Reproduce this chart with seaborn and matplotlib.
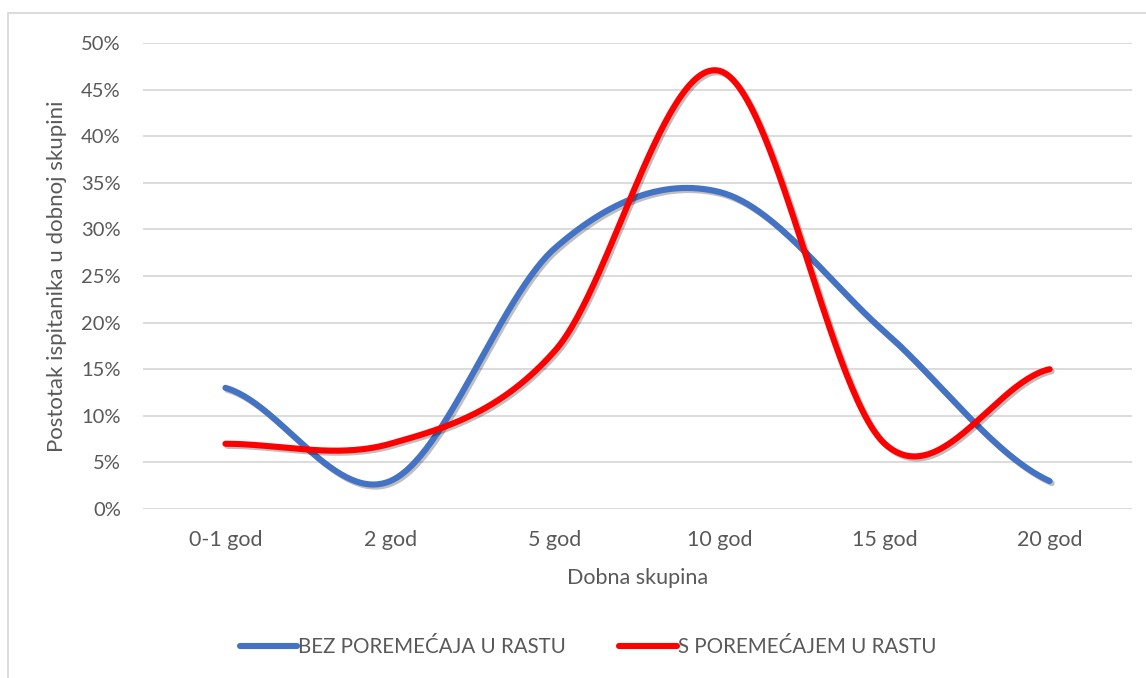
import numpy as np
import pandas as pd
import matplotlib
matplotlib.use("Agg")
import matplotlib.pyplot as plt
import matplotlib.patheffects as pe
from matplotlib.lines import Line2D
from matplotlib.ticker import PercentFormatter
import seaborn as sns

# ---- data ----
categories = ["0-1 god", "2 god", "5 god", "10 god", "15 god", "20 god"]
bez_poremecaja = [0.13, 0.03, 0.28, 0.34, 0.19, 0.03]
s_poremecajem = [0.07, 0.07, 0.17, 0.47, 0.07, 0.15]
series_names = ["BEZ POREMEĆAJA U RASTU", "S POREMEĆAJEM U RASTU"]
series_colors = ["#4472C4", "#FF0000"]
y_ticks = [0, 0.05, 0.10, 0.15, 0.20, 0.25, 0.30, 0.35, 0.40, 0.45, 0.50]
x_title = "Dobna skupina"
y_title = "Postotak ispitanika u dobnoj skupini"


def smooth_curve(values, steps=60):
    """Catmull-Rom style smoothing (like Excel 'smoothed line')."""
    p = np.asarray(values, dtype=float)
    n = len(p)
    ext = np.concatenate([[p[0]], p, [p[-1]]])
    xs, ys = [], []
    for i in range(n - 1):
        p0, p1, p2, p3 = ext[i], ext[i + 1], ext[i + 2], ext[i + 3]
        m1 = (p2 - p0) / 2.0
        m2 = (p3 - p1) / 2.0
        t = np.linspace(0, 1, steps, endpoint=(i == n - 2))
        h00 = 2 * t**3 - 3 * t**2 + 1
        h10 = t**3 - 2 * t**2 + t
        h01 = -2 * t**3 + 3 * t**2
        h11 = t**3 - t**2
        ys.append(h00 * p1 + h10 * m1 + h01 * p2 + h11 * m2)
        xs.append(i + t)
    return np.concatenate(xs), np.concatenate(ys)


frames = []
for name, vals in zip(series_names, [bez_poremecaja, s_poremecajem]):
    xs, ys = smooth_curve(vals)
    frames.append(pd.DataFrame({"x": xs, "y": ys, "serija": name}))
df = pd.concat(frames, ignore_index=True)

sns.set_theme(style="white")
plt.rcParams["font.family"] = ["Lato", "DejaVu Sans"]

W, H = 1146, 678
fig = plt.figure(figsize=(W / 100, H / 100), dpi=100)
ax = fig.add_axes([143 / W, 1 - 509 / H, (1132 - 143) / W, (509 - 43) / H])

shadow = [pe.SimpleLineShadow(offset=(1.5, -1.5), shadow_color="black", alpha=0.25),
          pe.Normal()]

sns.lineplot(data=df, x="x", y="y", hue="serija", palette=series_colors,
             hue_order=series_names, sort=False, estimator=None,
             linewidth=4.4, ax=ax, legend=False)
for ln in ax.get_lines():
    ln.set_path_effects(shadow)
    ln.set_solid_capstyle("round")
    ln.set_zorder(3)

text_color = "#595959"
ax.set_xlim(-0.5, len(categories) - 0.5)
ax.set_ylim(0, 0.5)
ax.set_xticks(range(len(categories)))
ax.set_xticklabels(categories)
ax.set_yticks(y_ticks)
ax.yaxis.set_major_formatter(PercentFormatter(1.0, decimals=0))
ax.tick_params(axis="both", length=0, colors=text_color)
ax.tick_params(axis="y", pad=16, labelsize=14.5)
ax.tick_params(axis="x", pad=15, labelsize=15.5)
ax.grid(axis="y", color="#D9D9D9", linewidth=1.3)
ax.grid(axis="x", visible=False)
ax.set_axisbelow(True)
for s in ax.spines.values():
    s.set_visible(False)

ax.set_xlabel(x_title, fontsize=15.5, color=text_color, labelpad=13)
ax.set_ylabel(y_title, fontsize=16, color=text_color, labelpad=10)

handles = [Line2D([0], [0], color=c, linewidth=4.4, solid_capstyle="round")
           for c in series_colors]
fig.legend(handles, series_names, loc="center", bbox_to_anchor=(588 / W, 1 - 647 / H),
           ncol=2, frameon=False, fontsize=14.8, handlelength=2.8,
           handletextpad=0.05, columnspacing=2.6, labelcolor=text_color)

# chart area border (top and left visible)
border = "#D9D9D9"
fig.add_artist(Line2D([8 / W, 1], [1 - 13 / H, 1 - 13 / H], color=border,
                      linewidth=1.3, transform=fig.transFigure))
fig.add_artist(Line2D([8 / W, 8 / W], [0, 1 - 13 / H], color=border,
                      linewidth=1.3, transform=fig.transFigure))

fig.savefig("out.png", dpi=100, facecolor="white")
